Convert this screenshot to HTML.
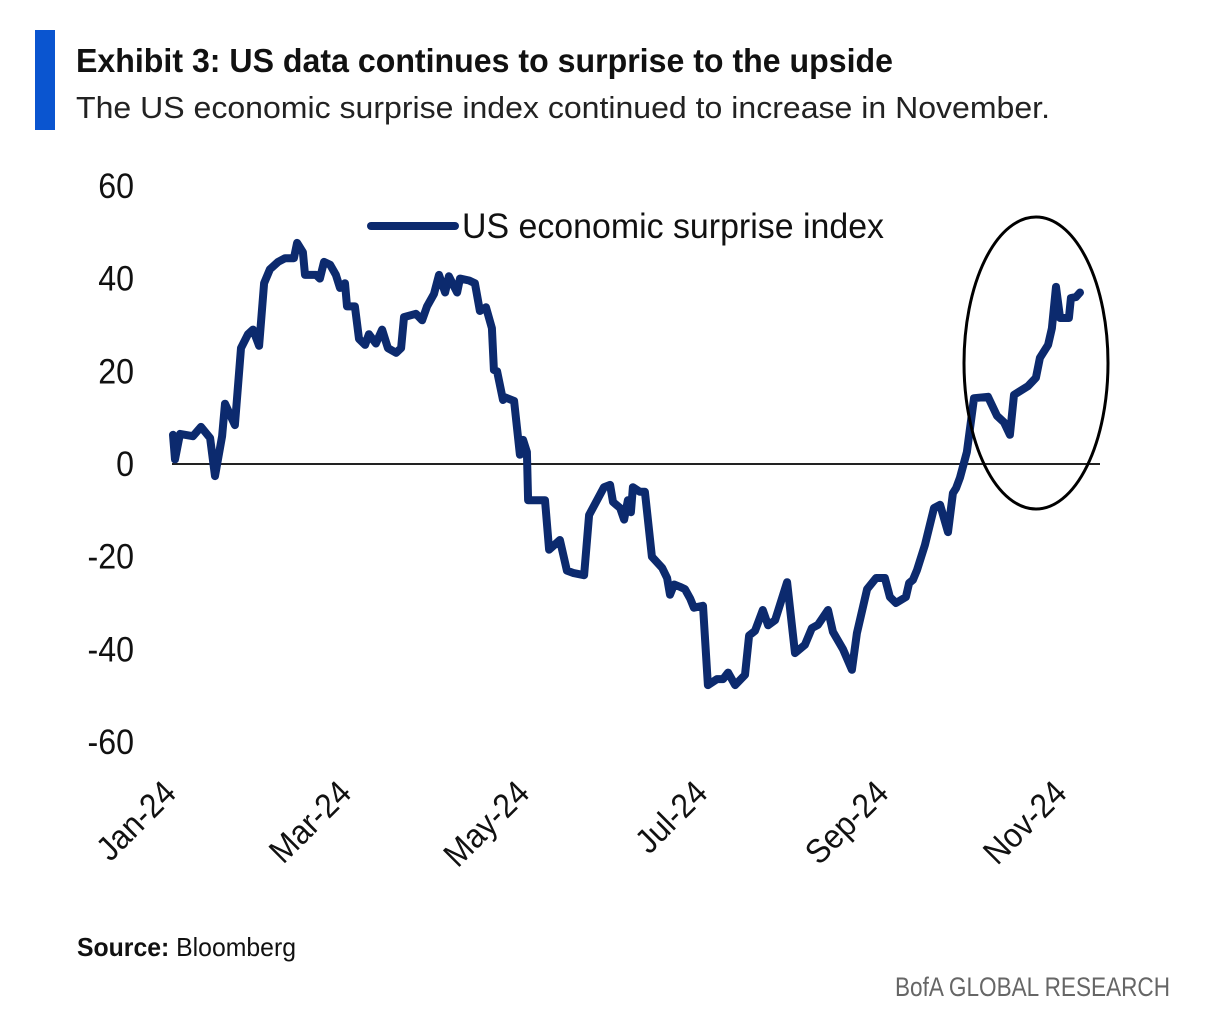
<!DOCTYPE html>
<html><head><meta charset="utf-8"><style>
html,body{margin:0;padding:0;background:#fff;}
svg{display:block;font-family:"Liberation Sans Narrow","Liberation Sans",sans-serif;}
</style></head><body>
<svg id="chart" width="1210" height="1012" viewBox="0 0 1210 1012" xmlns="http://www.w3.org/2000/svg">
<rect x="35" y="30" width="20" height="100" fill="#0a55d0"/>
<text x="76" y="72" font-size="33" font-weight="bold" fill="#111" textLength="817" lengthAdjust="spacingAndGlyphs">Exhibit 3: US data continues to surprise to the upside</text>
<text x="76" y="118" font-size="31" fill="#222" textLength="974" lengthAdjust="spacingAndGlyphs">The US economic surprise index continued to increase in November.</text>
<g id="yaxis"></g>
<g id="xaxis"></g>
<line x1="172" y1="464" x2="1100" y2="464" stroke="#222" stroke-width="2"/>
<path id="series" fill="none" stroke="#0c2a6e" stroke-width="8" stroke-linejoin="round" stroke-linecap="round"/>
<ellipse cx="1036" cy="363" rx="72" ry="146" fill="none" stroke="#000" stroke-width="3"/>
<g>
<line x1="371" y1="226" x2="455" y2="226" stroke="#0c2a6e" stroke-width="8" stroke-linecap="round"/>
<text x="462" y="238" font-size="35" fill="#111" textLength="422" lengthAdjust="spacingAndGlyphs">US economic surprise index</text>
</g>
<text x="77" y="956" font-size="26" fill="#111" textLength="219" lengthAdjust="spacingAndGlyphs"><tspan font-weight="bold">Source:</tspan> Bloomberg</text>
<text x="1170" y="996" font-size="27" fill="#666" text-anchor="end" textLength="275" lengthAdjust="spacingAndGlyphs">BofA GLOBAL RESEARCH</text>
</svg>
<script>
const days = [0,0.7,2.4,6.8,9.6,12.7,14.4,16.8,17.8,21.2,23.3,25.7,27.4,29.5,31.2,33.2,36,38.4,41.4,42.5,44.5,45.2,49,50.3,51.7,53.8,55.8,57.2,58.9,59.6,62.3,63.7,65.8,67.1,69.5,71.6,73.6,76.4,78.1,79.1,83.2,85.3,87,89.4,91.1,93.2,94.5,97.3,98.3,101.4,103.4,105.1,107.2,109.2,109.9,111,113,113.7,116.8,118.8,119.9,121.2,121.6,127.4,128.8,132.5,134.9,137,140.8,142.5,147.6,149.7,150.7,153.1,154.5,155.8,156.8,157.5,159.9,161.6,164,167.5,169.2,170.2,171.6,173.6,175.3,177.1,178.4,181.5,183.2,186.3,188.4,190.1,192.5,195.9,197.3,199.3,202,203.8,206.2,210.3,213,216.4,218.8,220.9,224.3,226,229.5,232.5,234.2,237.7,240.8,243.8,245.5,247.6,251,252.1,253.4,254.8,257.5,260.6,262.7,265.4,267.1,268.2,269.5,271.9,274.3,279.1,282.2,284.6,286.6,288,292.8,295.5,296.9,299.7,301,302.4,303.8,306.8,307.5,309.2,310.6];
const values = [6.3,1,6.5,6,8,5.6,-2.6,6,13,8.4,25,28,29,25.5,39,42,43.6,44.4,44.4,47.7,45.7,40.8,40.8,40,43.6,43,40.8,38,39,34,34,27,25.7,28,26,29,25,24,25,31.7,32.4,31,34,36.7,40.8,37,40.5,37,40,39.6,39,33,33.8,29.3,20.3,20,13.8,14.4,13.6,2,5.2,2.6,-7.8,-7.8,-18.5,-16.4,-23,-23.5,-24,-11,-5,-4.5,-8.2,-9.5,-12,-7.8,-10.4,-5,-6,-6,-20,-22.4,-24.6,-28.2,-26,-26.5,-27,-29,-31,-30.6,-47.7,-46.4,-46.4,-45,-47.7,-45.5,-37,-36,-31.5,-34.8,-33.7,-25.5,-40.8,-39,-35.4,-34.7,-31.5,-36.2,-40,-44.4,-36.5,-27,-24.6,-24.6,-28.7,-30,-28.7,-25.7,-25,-22.9,-17.5,-9.5,-8.8,-14.7,-6.3,-5.2,-3,2.6,14.2,14.5,10.4,9,6.3,14.9,16.8,18.6,22.9,25.7,29.3,38.2,31.5,31.5,35.8,36,37];
const yTicks = [60,40,20,0,-20,-40,-60];
const xTickLabels = ["Jan-24","Mar-24","May-24","Jul-24","Sep-24","Nov-24"];
const xTickDays = [0,60,121,182,244,305];

const NS = "http://www.w3.org/2000/svg";
const xS = d => 173 + d * 2.92;
const yS = v => 464 - v * 4.635;

const ya = document.getElementById('yaxis');
yTicks.forEach(t => {
  const tx = document.createElementNS(NS,'text');
  tx.setAttribute('x', 134); tx.setAttribute('y', yS(t) + 12);
  tx.setAttribute('text-anchor','end'); tx.setAttribute('font-size','35'); tx.setAttribute('fill','#111');
  tx.setAttribute('transform', `translate(134 0) scale(0.92 1) translate(-134 0)`);
  
  
  tx.textContent = t; ya.appendChild(tx);
});
const xa = document.getElementById('xaxis');
xTickLabels.forEach((l,i) => {
  const x = xS(xTickDays[i]) + 5, y = 795;
  const tx = document.createElementNS(NS,'text');
  tx.setAttribute('x', x); tx.setAttribute('y', y);
  tx.setAttribute('text-anchor','end'); tx.setAttribute('font-size','34'); tx.setAttribute('fill','#111');
  tx.setAttribute('transform', `rotate(-45 ${x} ${y}) translate(${x} 0) scale(0.92 1) translate(${-x} 0)`);
  
  
  tx.textContent = l; xa.appendChild(tx);
});
document.getElementById('series').setAttribute('d',
  days.map((d,i) => (i ? 'L' : 'M') + xS(d).toFixed(1) + ' ' + yS(values[i]).toFixed(1)).join(' '));
</script>
</body></html>
